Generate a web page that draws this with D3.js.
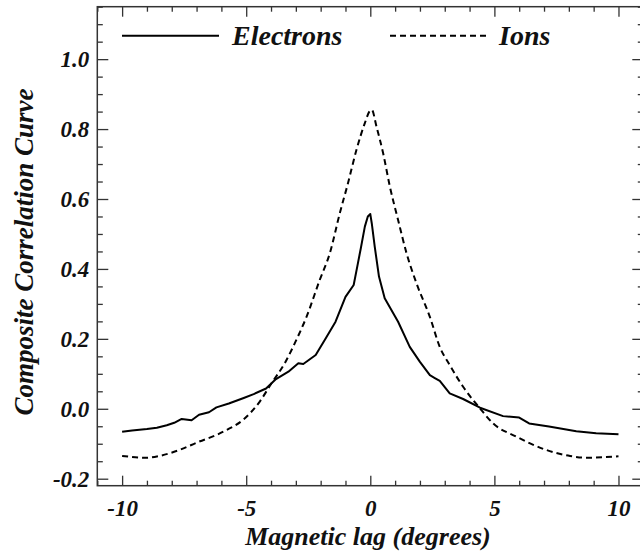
<!DOCTYPE html>
<html>
<head>
<meta charset="utf-8">
<script src="https://cdn.jsdelivr.net/npm/d3@7"></script>
<style>
  body { margin: 0; background: #fff; }
  text { font-family: "Liberation Serif", serif; font-style: italic; font-weight: bold; fill: #111; }
</style>
</head>
<body>
<div id="chart-area"></div>
<script>
// magnetic lag (degrees) and correlation values
var electronLag = [-10, -9.6, -9.0, -8.6, -8.2, -7.9, -7.6, -7.2, -6.9, -6.5, -6.2, -5.7, -5.1, -4.7, -4.2, -3.8,
  -3.3, -2.9, -2.7, -2.2, -1.8, -1.4, -1.0, -0.67, -0.5, -0.38, -0.22, -0.1, 0, 0.06, 0.18, 0.35, 0.58,
  1.12, 1.59, 2.0, 2.4, 2.6, 2.8, 3.2, 3.74, 4.42, 5.35, 6.0, 6.4, 7.2, 8.3, 9.1, 10];
var electronCorr = [-0.066, -0.062, -0.058, -0.054, -0.047, -0.040, -0.029, -0.033, -0.017, -0.010, 0.004, 0.015, 0.031, 0.042, 0.058, 0.085,
  0.106, 0.130, 0.128, 0.154, 0.201, 0.249, 0.320, 0.354, 0.416, 0.46, 0.521, 0.55, 0.557, 0.53, 0.463, 0.378, 0.316,
  0.249, 0.177, 0.134, 0.096, 0.088, 0.080, 0.044, 0.028, 0.003, -0.021, -0.025, -0.042, -0.051, -0.064, -0.070, -0.073];

var ionLag = [-10, -9.0, -8.5, -7.7, -6.9, -6.2, -5.8, -5.13, -4.46, -3.98, -3.45, -2.98, -2.57, -2.04, -1.63, -1.23,
  -0.9, -0.56, -0.22, -0.02, 0.06, 0.25, 0.52, 0.79, 1.12, 1.46, 1.86, 2.4, 2.8, 3.2, 3.74, 4.42, 4.95, 5.9,
  7.1, 8.05, 8.7, 10];
var ionCorr = [-0.135, -0.140, -0.135, -0.118, -0.094, -0.075, -0.061, -0.032, 0.020, 0.073, 0.130, 0.197, 0.263, 0.368, 0.445, 0.559,
  0.645, 0.740, 0.817, 0.852, 0.855, 0.807, 0.730, 0.635, 0.540, 0.445, 0.359, 0.263, 0.177, 0.125, 0.063, 0.001, -0.042, -0.080,
  -0.118, -0.135, -0.140, -0.136];

var xMajor = [-10, -5, 0, 5, 10];
var yMajor = [-0.2, 0, 0.2, 0.4, 0.6, 0.8, 1.0];
var seriesNames = ["Electrons", "Ions"];

var W = 640, H = 553;
var svg = d3.select("#chart-area").append("svg")
  .attr("width", W)
  .attr("height", H);

var x = d3.scaleLinear().domain([-11, 11]).range([97.3, 643.3]);
var y = d3.scaleLinear().domain([-0.22, 1.15]).range([485.7, 6.7]);

var xMinor = d3.range(-11, 11.01, 1).filter(d => xMajor.indexOf(d) < 0);
var yMinor = d3.range(-0.2, 1.151, 0.05).map(d => +d.toFixed(2)).filter(d => yMajor.indexOf(d) < 0);

// plain hyphen instead of d3's unicode minus
var fmtX = d => String(d);
var fmtY = d => d.toFixed(1);

function styleAxis(g) {
  g.select(".domain").remove();
  g.selectAll("line").attr("stroke", "#333").attr("stroke-width", 1.3);
  g.selectAll("text").style("font-size", "23px").attr("fill", "#111");
}

// bottom
svg.append("g").attr("transform", "translate(0," + y.range()[0] + ")")
  .call(d3.axisBottom(x).tickValues(xMajor).tickSize(-10).tickPadding(14).tickFormat(fmtX))
  .call(styleAxis);
svg.append("g").attr("transform", "translate(0," + y.range()[0] + ")")
  .call(d3.axisBottom(x).tickValues(xMinor).tickSize(-5).tickFormat(""))
  .call(styleAxis);
// top
svg.append("g").attr("transform", "translate(0," + y.range()[1] + ")")
  .call(d3.axisTop(x).tickValues(xMajor).tickSize(-10).tickFormat(""))
  .call(styleAxis);
svg.append("g").attr("transform", "translate(0," + y.range()[1] + ")")
  .call(d3.axisTop(x).tickValues(xMinor).tickSize(-5).tickFormat(""))
  .call(styleAxis);
// left
svg.append("g").attr("transform", "translate(" + x.range()[0] + ",0)")
  .call(d3.axisLeft(y).tickValues(yMajor).tickSize(-11).tickPadding(8).tickFormat(fmtY))
  .call(styleAxis);
svg.append("g").attr("transform", "translate(" + x.range()[0] + ",0)")
  .call(d3.axisLeft(y).tickValues(yMinor).tickSize(-5.5).tickFormat(""))
  .call(styleAxis);
// right
svg.append("g").attr("transform", "translate(" + x.range()[1] + ",0)")
  .call(d3.axisRight(y).tickValues(yMajor).tickSize(-11).tickFormat(""))
  .call(styleAxis);
svg.append("g").attr("transform", "translate(" + x.range()[1] + ",0)")
  .call(d3.axisRight(y).tickValues(yMinor).tickSize(-5.5).tickFormat(""))
  .call(styleAxis);

// frame
svg.append("rect")
  .attr("x", x.range()[0]).attr("y", y.range()[1])
  .attr("width", x.range()[1] - x.range()[0])
  .attr("height", y.range()[0] - y.range()[1])
  .attr("fill", "none").attr("stroke", "#333").attr("stroke-width", 1.5);

// curves
var electrons = electronLag.map((d, i) => ({ x: d, y: electronCorr[i] }));
var ions = ionLag.map((d, i) => ({ x: d, y: ionCorr[i] }));

var line = d3.line().x(d => x(d.x)).y(d => y(d.y));
var smooth = d3.line().x(d => x(d.x)).y(d => y(d.y)).curve(d3.curveMonotoneX);

svg.append("path").datum(ions)
  .attr("d", smooth)
  .attr("fill", "none").attr("stroke", "#000").attr("stroke-width", 2)
  .attr("stroke-dasharray", "6,4");

svg.append("path").datum(electrons)
  .attr("d", line)
  .attr("fill", "none").attr("stroke", "#000").attr("stroke-width", 2)
  .attr("stroke-linejoin", "round");

// legend
var legend = svg.append("g");
legend.append("line").attr("x1", 122).attr("x2", 219).attr("y1", 35.7).attr("y2", 35.7)
  .attr("stroke", "#000").attr("stroke-width", 2);
legend.append("text").attr("x", 232).attr("y", 45).style("font-size", "28px").text(seriesNames[0]);
legend.append("line").attr("x1", 390).attr("x2", 490).attr("y1", 35.7).attr("y2", 35.7)
  .attr("stroke", "#000").attr("stroke-width", 2).attr("stroke-dasharray", "6,4");
legend.append("text").attr("x", 499).attr("y", 45).style("font-size", "28px").text(seriesNames[1]);

// axis titles
svg.append("text")
  .attr("x", 368).attr("y", 545)
  .attr("text-anchor", "middle")
  .style("font-size", "26px")
  .text("Magnetic lag (degrees)");

svg.append("text")
  .attr("transform", "translate(33,252) rotate(-90)")
  .attr("text-anchor", "middle")
  .style("font-size", "27px")
  .text("Composite Correlation Curve");
</script>
</body>
</html>
